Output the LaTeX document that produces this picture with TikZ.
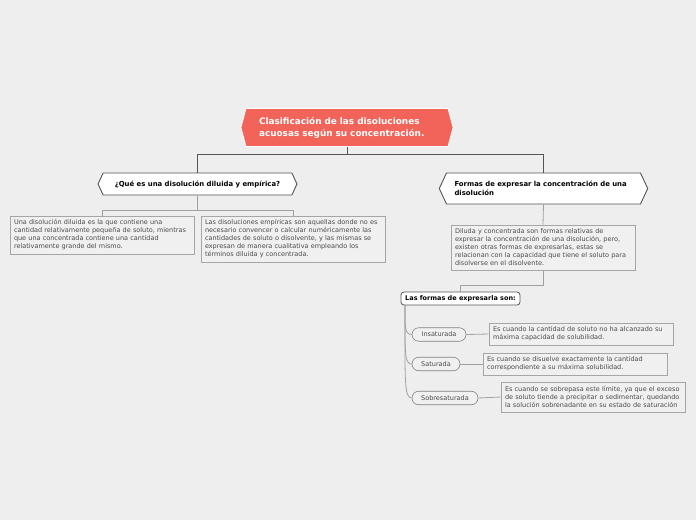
\documentclass[tikz,border=0pt]{standalone}
\usepackage{fontspec}
\setmainfont{DejaVu Sans}
\usetikzlibrary{shapes.symbols,shapes.misc}
\definecolor{bg}{HTML}{EEEEEE}
\definecolor{rootred}{HTML}{F2645A}
\definecolor{boxfill}{HTML}{F0F0F0}
\definecolor{boxline}{HTML}{A6A6A6}
\definecolor{boxtext}{HTML}{4A4A4A}
\definecolor{darkline}{HTML}{555555}
\definecolor{lightline}{HTML}{A0A0A0}
\tikzset{
  rootnode/.style={signal, signal to=east and west, signal pointer angle=150,
    fill=rootred, draw=white, line width=0.8pt, text=white, font=\fontsize{8.9}{12}\selectfont\bfseries,
    text width=176pt, align=left, inner xsep=13pt, minimum height=38pt},
  topicnode/.style={signal, signal to=east and west, signal pointer angle=130,
    fill=white, draw=darkline, line width=0.9pt, text=black, font=\fontsize{6.9}{8.5}\selectfont\bfseries},
  infobox/.style={rectangle, fill=boxfill, draw=boxline, line width=0.8pt, text=boxtext,
    font=\fontsize{6.5}{8}\selectfont, text width=176pt, align=left, inner xsep=4pt, inner ysep=3pt},
  subnode/.style={rectangle, rounded corners=3pt, fill=white, draw=darkline, line width=0.8pt,
    text=black, font=\fontsize{6.5}{7}\selectfont\bfseries, minimum width=119pt, minimum height=13pt, inner sep=2pt},
  pill/.style={rounded rectangle, fill=boxfill, draw=gray, line width=0.6pt, text=boxtext,
    font=\fontsize{6.5}{7}\selectfont, minimum height=13.5pt, inner sep=1pt},
  darkconn/.style={draw=darkline, line width=0.9pt},
  lightconn/.style={draw=lightline, line width=0.8pt},
}
\begin{document}
\begin{tikzpicture}[x=1pt,y=-1pt]
\useasboundingbox[fill=bg] (0,0) rectangle (696,520);

\node[rootnode] (root) at (347,127.5) {Clasificación de las disoluciones\\acuosas según su concentración.};

\node[topicnode, minimum width=199pt, minimum height=22pt, inner xsep=8pt] (n1) at (197.5,184) {¿Qué es una disolución diluida y empírica?};
\node[topicnode, text width=178pt, align=left, minimum height=31pt, inner xsep=8pt] (n2) at (543.5,188.5) {Formas de expresar la concentración de una\\disolución};

\node[infobox, minimum height=38pt] (ba) at (102,235) {Una disolución diluida es la que contiene una\\cantidad relativamente pequeña de soluto, mientras\\que una concentrada contiene una cantidad\\relativamente grande del mismo.};
\node[infobox, minimum height=46pt] (bb) at (293,239) {Las disoluciones empíricas son aquellas donde no es\\necesario convencer o calcular numéricamente las\\cantidades de soluto o disolvente, y las mismas se\\expresan de manera cualitativa empleando los\\términos diluida y concentrada.};
\node[infobox, minimum height=45pt] (bc) at (543,247.5) {Diluda y concentrada son formas relativas de\\expresar la concentración de una disolución, pero,\\existen otras formas de expresarlas, estas se\\relacionan con la capacidad que tiene el soluto para\\disolverse en el disolvente.};

\node[subnode] (d) at (460.5,298.5) {Las formas de expresarla son:};

\node[pill, minimum width=56pt] (ins) at (439,334.5) {Insaturada};
\node[pill, minimum width=50pt] (sat) at (436,364) {Saturada};
\node[pill, minimum width=68pt] (sob) at (445,398) {Sobresaturada};

\node[infobox, minimum height=22pt] (be) at (581,334) {Es cuando la cantidad de soluto no ha alcanzado su\\máxima capacidad de solubilidad.};
\node[infobox, minimum height=22pt] (bf) at (575,364) {Es cuando se disuelve exactamente la cantidad\\correspondiente a su máxima solubilidad.};
\node[infobox, minimum height=30pt] (bg) at (593,397) {Es cuando se sobrepasa este límite, ya que el exceso\\de soluto tiende a precipitar o sedimentar, quedando\\la solución sobrenadante en su estado de saturación};

\coordinate (dstart) at (405,305);

\draw[darkconn] (root.south) -- ++(0,8) -| (n1.north);
\draw[darkconn] (root.south) -- ++(0,8) -| (n2.north);
\draw[lightconn] (n1.south) -- ++(0,15) -| (ba.north);
\draw[lightconn] (n1.south) -- ++(0,15) -| (bb.north);
\draw[lightconn] (n2.south) -- (bc.north);
\draw[lightconn] (bc.south) -- ++(0,15) -| (d.north);
\draw[lightconn] (dstart) .. controls (405,325) and (404,334.5) .. (ins.west);
\draw[lightconn] (dstart) .. controls (405,350) and (404,364) .. (sat.west);
\draw[lightconn] (dstart) .. controls (405,380) and (404,398) .. (sob.west);
\draw[lightconn] (ins.east) -- (be.west);
\draw[lightconn] (sat.east) -- (bf.west);
\draw[lightconn] (sob.east) -- (bg.west);
\end{tikzpicture}
\end{document}
